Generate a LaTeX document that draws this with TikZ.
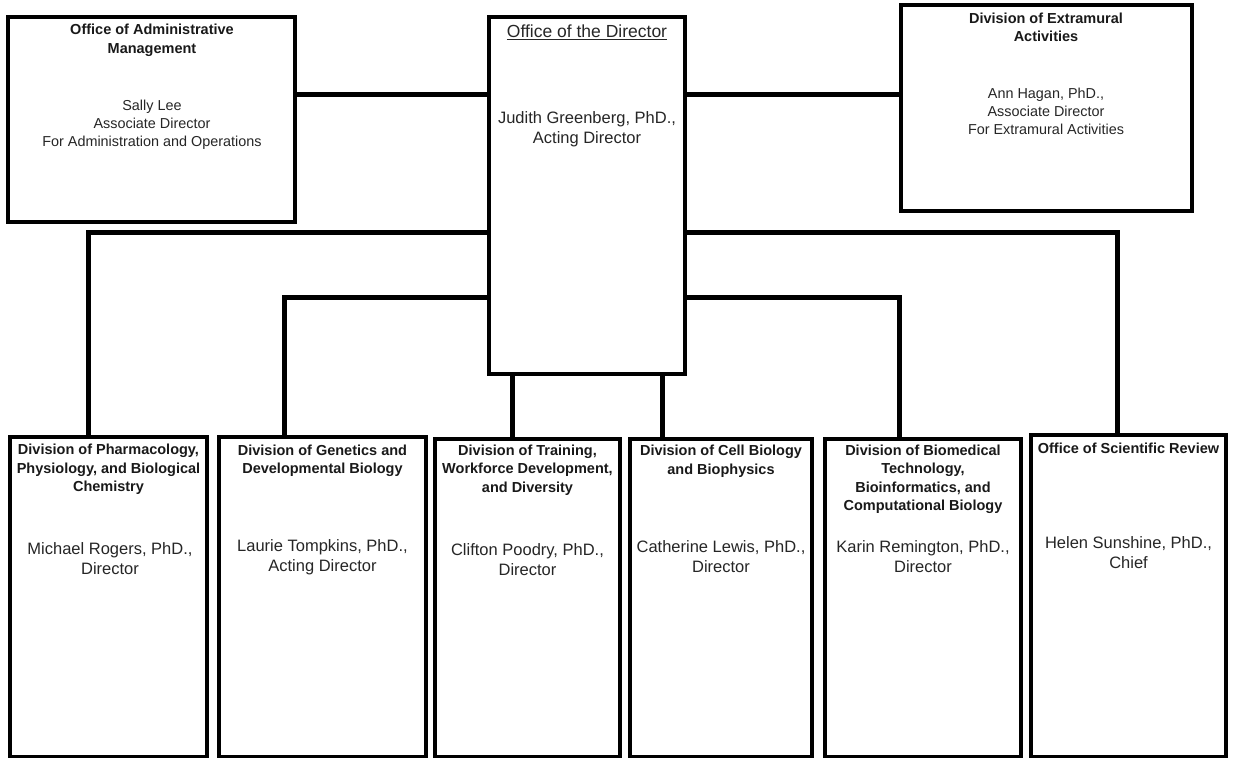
\documentclass[tikz,border=0pt]{standalone}
\usepackage{fontspec}
\setmainfont{Liberation Sans}
\begin{document}
\begin{tikzpicture}[x=1pt,y=-1pt,
  box/.style={draw, line width=3.5pt, inner sep=0pt, outer sep=0pt},
  conn/.style={line width=5pt},
  ttl/.style={font=\bfseries\fontsize{14.5}{18.5}\selectfont, align=center, inner sep=0pt, text=black!90, yshift=-2pt},
  nm/.style={font=\fontsize{16.5}{20}\selectfont, align=center, inner sep=0pt, text=black!85, yshift=-2pt},
  nms/.style={font=\fontsize{14.4}{18}\selectfont, align=center, inner sep=0pt, text=black!85, yshift=-2pt},
  dirttl/.style={font=\fontsize{17.5}{20}\selectfont, align=center, inner sep=0pt, text=black!85, yshift=-1pt}]
\fill[white] (0,0) rectangle (1233,757);
\useasboundingbox (0,0) rectangle (1233,757);

% top boxes
\node[box, minimum width=287pt, minimum height=205pt] (admin) at (151.5,119.5) {};
\node[box, minimum width=196pt, minimum height=357pt] (dir) at (587,195.5) {};
\node[box, minimum width=291pt, minimum height=206pt] (extra) at (1046.5,108) {};

% bottom boxes
\node[box, minimum width=197pt, minimum height=320pt] (pharm) at (108.5,597) {};
\node[box, minimum width=207pt, minimum height=320pt] (gen) at (322.5,597) {};
\node[box, minimum width=185pt, minimum height=318pt] (train) at (527.5,598) {};
\node[box, minimum width=182pt, minimum height=318pt] (cell) at (721,598) {};
\node[box, minimum width=196pt, minimum height=318pt] (biomed) at (923,598) {};
\node[box, minimum width=195pt, minimum height=322pt] (osr) at (1128.5,596) {};

% texts
\node[ttl] (adminT) at (152,38.5) {Office of Administrative\\Management};
\node[nms] (adminN) at (152,123) {Sally Lee\\Associate Director\\For Administration and Operations};
\node[dirttl] (dirT) at (587,31) {\underline{Office of the Director}};
\node[nm] (dirN) at (587,127) {Judith Greenberg, PhD.,\\Acting Director};
\node[ttl] (extraT) at (1046,25.5) {Division of Extramural\\Activities};
\node[nms] (extraN) at (1046,109) {Ann Hagan, PhD.,\\Associate Director\\For Extramural Activities};

\node[ttl] (pharmT) at (108.5,467.5) {Division of Pharmacology,\\Physiology, and Biological\\Chemistry};
\node[nm] (pharmN) at (110,557) {Michael Rogers, PhD.,\\Director};
\node[ttl] (genT) at (322.5,459) {Division of Genetics and\\Developmental Biology};
\node[nm] (genN) at (322.5,555) {Laurie Tompkins, PhD.,\\Acting Director};
\node[ttl] (trainT) at (527.5,468) {Division of Training,\\Workforce Development,\\and Diversity};
\node[nm] (trainN) at (527.5,558) {Clifton Poodry, PhD.,\\Director};
\node[ttl] (cellT) at (721,459) {Division of Cell Biology\\and Biophysics};
\node[nm] (cellN) at (721,555) {Catherine Lewis, PhD.,\\Director};
\node[ttl] (biomedT) at (923,477.5) {Division of Biomedical\\Technology,\\Bioinformatics, and\\Computational Biology};
\node[nm] (biomedN) at (923,555) {Karin Remington, PhD.,\\Director};
\node[ttl] (osrT) at (1128.5,446) {Office of Scientific Review};
\node[nm] (osrN) at (1128.5,551) {Helen Sunshine, PhD.,\\Chief};

% levels and columns
\coordinate (y95) at (0,95);
\coordinate (y232) at (0,232);
\coordinate (y297) at (0,297);
\coordinate (xp) at (88,0);
\coordinate (xg) at (284,0);
\coordinate (xt) at (512,0);
\coordinate (xc) at (662,0);
\coordinate (xb) at (899,0);
\coordinate (xo) at (1117,0);

% connectors
\draw[conn] (admin.east |- y95) -- (dir.west |- y95);
\draw[conn] (dir.east |- y95) -- (extra.west |- y95);
\draw[conn] (dir.west |- y232) -| (xp |- pharm.north);
\draw[conn] (dir.west |- y297) -| (xg |- gen.north);
\draw[conn] (xt |- dir.south) -- (xt |- train.north);
\draw[conn] (xc |- dir.south) -- (xc |- cell.north);
\draw[conn] (dir.east |- y297) -| (xb |- biomed.north);
\draw[conn] (dir.east |- y232) -| (xo |- osr.north);
\end{tikzpicture}
\end{document}
